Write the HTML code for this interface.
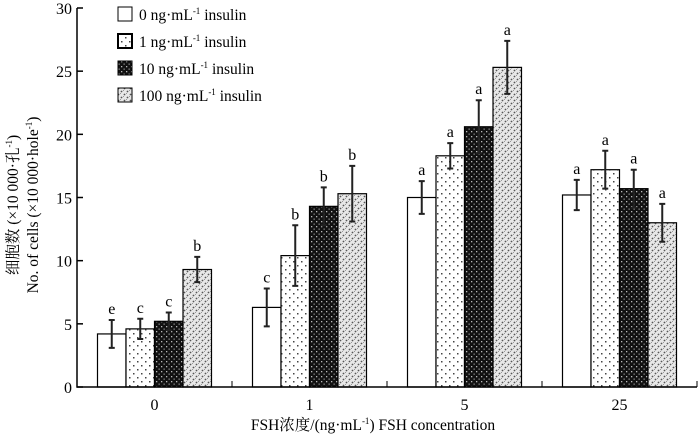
<!DOCTYPE html>
<html><head><meta charset="utf-8"><style>
body{margin:0;background:#fff}
text{font-family:"Liberation Serif","Noto Serif CJK SC",serif;fill:#000}
</style></head><body>
<svg width="700" height="434" viewBox="0 0 700 434">
<defs>
<pattern id="p1" width="8" height="8" patternUnits="userSpaceOnUse"><rect width="8" height="8" fill="#fff"/><rect x="1" y="1" width="1.5" height="1.5" fill="#444"/><rect x="5" y="5" width="1.5" height="1.5" fill="#444"/></pattern>
<pattern id="p2" width="5" height="5" patternUnits="userSpaceOnUse"><rect width="5" height="5" fill="#111"/><rect x="1" y="1" width="1.3" height="1.3" fill="#bbb"/><rect x="3.5" y="3.5" width="1.3" height="1.3" fill="#888"/></pattern>
<pattern id="p3" width="6" height="6" patternUnits="userSpaceOnUse"><rect width="6" height="6" fill="#e8e8e8"/><circle cx="1.5" cy="1.5" r="0.9" fill="#555"/><circle cx="4.5" cy="4.5" r="0.9" fill="#555"/><rect x="3" y="0" width="1" height="1" fill="#999"/><rect x="0" y="3" width="1" height="1" fill="#999"/></pattern>
</defs>
<g id="plot"></g>
<g>
<rect x="118" y="7" width="14" height="14" fill="#fff" stroke="#000"/>
<text x="139" y="20" font-size="15.5">0 ng·mL<tspan font-size="9" dy="-6">-1</tspan><tspan dy="6"> insulin</tspan></text>
<rect x="118" y="34" width="14" height="14" fill="url(#p1)" stroke="#000" stroke-width="2"/>
<text x="139" y="47" font-size="15.5">1 ng·mL<tspan font-size="9" dy="-6">-1</tspan><tspan dy="6"> insulin</tspan></text>
<rect x="118" y="61" width="14" height="14" fill="url(#p2)" stroke="#000"/>
<text x="139" y="74" font-size="15.5">10 ng·mL<tspan font-size="9" dy="-6">-1</tspan><tspan dy="6"> insulin</tspan></text>
<rect x="118" y="88" width="14" height="14" fill="url(#p3)" stroke="#000"/>
<text x="139" y="101" font-size="15.5">100 ng·mL<tspan font-size="9" dy="-6">-1</tspan><tspan dy="6"> insulin</tspan></text>
</g>
<text transform="translate(18,205) rotate(-90)" text-anchor="middle" font-size="15.5">细胞数 (×10 000·孔<tspan font-size="9" dy="-6">-1</tspan><tspan dy="6">)</tspan></text>
<text transform="translate(38,205) rotate(-90)" text-anchor="middle" font-size="15.5">No. of cells (×10 000·hole<tspan font-size="9" dy="-6">-1</tspan><tspan dy="6">)</tspan></text>
<text x="373" y="430" text-anchor="middle" font-size="15.5">FSH浓度/(ng·mL<tspan font-size="9" dy="-6">-1</tspan><tspan dy="6">)  FSH concentration</tspan></text>
</svg>
<script>
const categories=["0","1","5","25"];
const s0=[4.2,6.3,15.0,15.2];
const s1=[4.6,10.4,18.3,17.2];
const s2=[5.2,14.3,20.6,15.7];
const s3=[9.3,15.3,25.3,13.0];
const e0=[1.1,1.5,1.3,1.2];
const e1=[0.8,2.4,1.0,1.5];
const e2=[0.7,1.5,2.1,1.5];
const e3=[1.0,2.2,2.1,1.5];
const l0=["e","c","a","a"];
const l1=["c","b","a","a"];
const l2=["c","b","a","a"];
const l3=["b","b","a","a"];
const yTicks=[0,5,10,15,20,25,30];
const series=[s0,s1,s2,s3],errs=[e0,e1,e2,e3],lets=[l0,l1,l2,l3];
const fills=["#fff","url(#p1)","url(#p2)","url(#p3)"];
const X0=77,X1=697,Y0=387,Y1=8,YMAX=30;
const gw=(X1-X0)/categories.length,bw=28.5;
const y=v=>Y0-(v/YMAX)*(Y0-Y1);
const NS="http://www.w3.org/2000/svg";
const g=document.getElementById('plot');
function mk(t,a){const e=document.createElementNS(NS,t);for(const k in a)e.setAttribute(k,a[k]);g.appendChild(e);return e;}
categories.forEach((c,i)=>{
  const cx=X0+gw*(i+0.5);
  series.forEach((s,j)=>{
    const x=cx-2*bw+j*bw, v=s[i], top=y(v);
    const r=mk('rect',{x:x,y:top,width:bw,height:Y0-top,fill:fills[j],stroke:'#000','stroke-width':1.2});
    
    
    const bx=x+bw/2,hi=y(v+errs[j][i]),lo=y(v-errs[j][i]);
    const ln=mk('path',{d:`M${bx},${hi}V${lo}M${bx-3},${hi}H${bx+3}M${bx-3},${lo}H${bx+3}`,stroke:'#222','stroke-width':2,fill:'none'});
    
    
    const t=mk('text',{x:bx,y:hi-6,'text-anchor':'middle','font-size':16});
    t.textContent=lets[j][i];
    
    
  });
  const tl=mk('text',{x:cx,y:410,'text-anchor':'middle','font-size':16});
  tl.textContent=c;
  
  
  const tk=mk('line',{x1:X0+gw*(i+1),x2:X0+gw*(i+1),y1:Y0,y2:Y0-6,stroke:'#000','stroke-width':1});
  
  
});
yTicks.forEach(v=>{
  const tk=mk('line',{x1:X0,x2:X0+6,y1:y(v),y2:y(v),stroke:'#000','stroke-width':1.5});
  
  
  const t=mk('text',{x:X0-5,y:y(v)+6,'text-anchor':'end','font-size':16});
  t.textContent=v;
  
  
});
const ax=mk('path',{d:`M${X0},${Y1}V${Y0}H${X1}`,stroke:'#000','stroke-width':1.5,fill:'none'});


</script>
</body></html>
